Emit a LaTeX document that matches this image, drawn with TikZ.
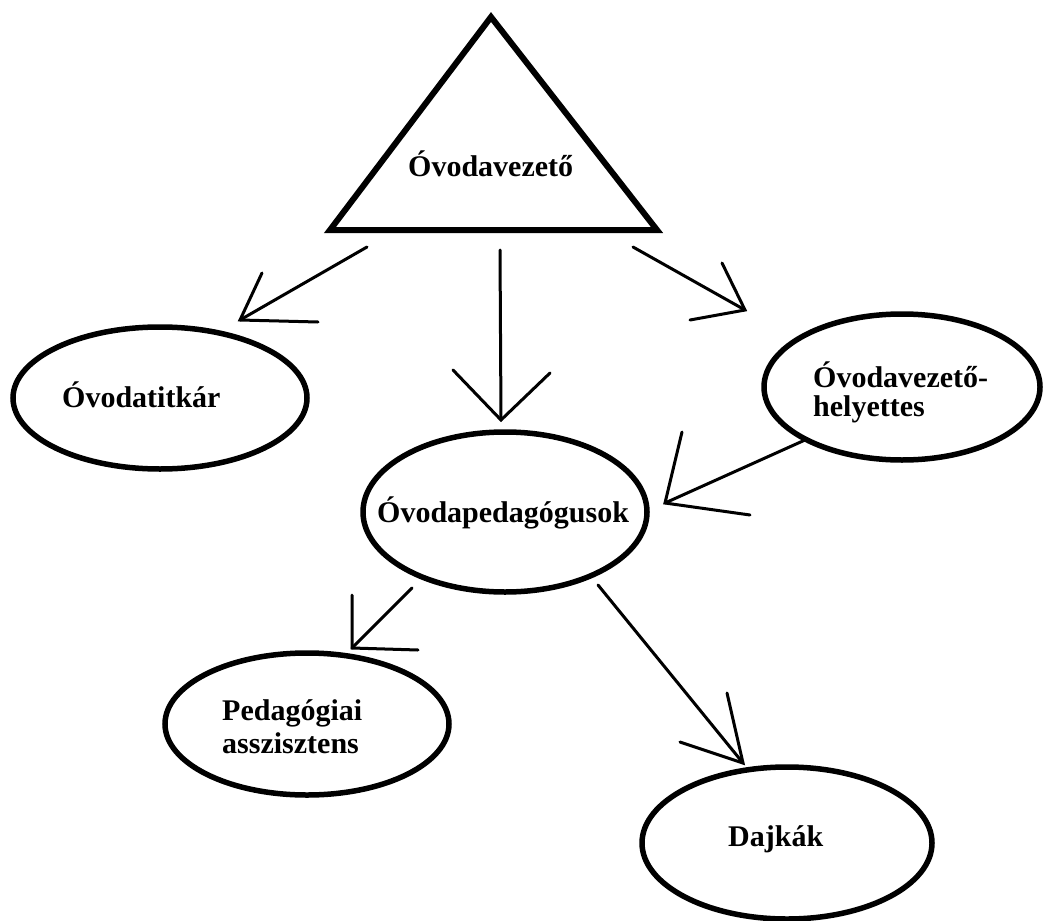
\documentclass[tikz,border=0pt]{standalone}
\usepackage{fontspec}
\setmainfont{Liberation Serif}
\usetikzlibrary{shapes.geometric}
\begin{document}
\begin{tikzpicture}[x=1pt,y=-1pt,
  oval/.style={draw=black,line width=5.5pt,ellipse,inner sep=0pt},
  lbl/.style={inner sep=0pt,anchor=base west,align=left,text=black},
  shaft/.style={draw=black,line width=3pt,line cap=round},
  wing/.style={draw=black,line width=3pt,line cap=round,line join=miter}]
\useasboundingbox (0,0) rectangle (1043,920);
\fill[white] (0,0) rectangle (1043,920);
% leader triangle
\coordinate (ta) at (491,17);
\coordinate (tl) at (330,230);
\coordinate (tr) at (657,230);
\draw[line width=6pt,line join=miter] (ta) -- (tr) -- (tl) -- cycle;
\node[lbl,font=\fontsize{30}{30}\selectfont\bfseries] (vez) at (408,177) {Óvodavezető};
% ellipses
\node[oval,minimum width=294pt,minimum height=142pt] (titk) at (160,398) {};
\node[oval,minimum width=284pt,minimum height=160pt] (ped) at (505,512) {};
\node[oval,minimum width=276pt,minimum height=146pt] (hely) at (902,387) {};
\node[oval,minimum width=284pt,minimum height=142pt] (assz) at (307,724) {};
\node[oval,minimum width=290pt,minimum height=152pt] (dajk) at (787,843) {};
% labels
\node[lbl,font=\fontsize{30}{30}\selectfont\bfseries] (titkT) at (62,407) {Óvodatitkár};
\node[lbl,font=\fontsize{30}{30}\selectfont\bfseries] (pedT) at (377,522) {Óvodapedagógusok};
\node[lbl,font=\fontsize{30}{29}\selectfont\bfseries] (helyT) at (813,416) {Óvodavezető-\\helyettes};
\node[lbl,font=\fontsize{30}{33}\selectfont\bfseries] (asszT) at (222,753) {Pedagógiai\\asszisztens};
\node[lbl,font=\fontsize{30}{30}\selectfont\bfseries] (dajkT) at (728,846) {Dajkák};
% arrow 1: to Óvodatitkár
\coordinate (a1s) at (367,247); \coordinate (a1t) at (240,320);
\coordinate (a1w) at (262,273); \coordinate (a1v) at (318,322);
\draw[shaft] (a1s) -- (a1t); \draw[wing] (a1w) -- (a1t) -- (a1v);
% arrow 2: to Óvodapedagógusok
\coordinate (a2s) at (500,250); \coordinate (a2t) at (501,420);
\coordinate (a2w) at (453,370); \coordinate (a2v) at (550,373);
\draw[shaft] (a2s) -- (a2t); \draw[wing] (a2w) -- (a2t) -- (a2v);
% arrow 3: to helyettes
\coordinate (a3s) at (633,247); \coordinate (a3t) at (745,310);
\coordinate (a3w) at (722,263); \coordinate (a3v) at (690,320);
\draw[shaft] (a3s) -- (a3t); \draw[wing] (a3w) -- (a3t) -- (a3v);
% arrow 4: helyettes to pedagógusok
\coordinate (a4s) at (805,440); \coordinate (a4t) at (665,503);
\coordinate (a4w) at (682,432); \coordinate (a4v) at (750,515);
\draw[shaft] (a4s) -- (a4t); \draw[wing] (a4w) -- (a4t) -- (a4v);
% arrow 5: to asszisztens
\coordinate (a5s) at (412,588); \coordinate (a5t) at (352,648);
\coordinate (a5w) at (352,595); \coordinate (a5v) at (418,650);
\draw[shaft] (a5s) -- (a5t); \draw[wing] (a5w) -- (a5t) -- (a5v);
% arrow 6: to Dajkák
\coordinate (a6s) at (598,585); \coordinate (a6t) at (743,763);
\coordinate (a6w) at (727,693); \coordinate (a6v) at (680,742);
\draw[shaft] (a6s) -- (a6t); \draw[wing] (a6w) -- (a6t) -- (a6v);
\end{tikzpicture}
\end{document}
